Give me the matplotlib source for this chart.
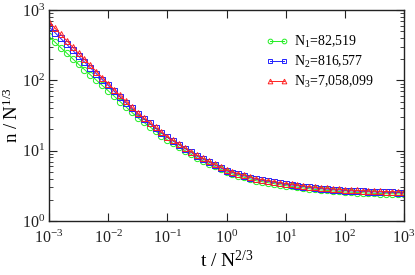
import matplotlib
matplotlib.use("Agg")
import matplotlib.pyplot as plt
from matplotlib.ticker import LogLocator, NullLocator, FixedLocator

plt.rcParams['font.family'] = ['Liberation Serif', 'DejaVu Serif']
plt.rcParams['mathtext.fontset'] = 'custom'
plt.rcParams['mathtext.rm'] = 'Liberation Serif'
plt.rcParams['mathtext.it'] = 'Liberation Serif:italic'
plt.rcParams['mathtext.bf'] = 'Liberation Serif:bold'
plt.rcParams['axes.unicode_minus'] = False

t = [0.001, 0.00126, 0.00158, 0.002, 0.00251, 0.00316, 0.00398, 0.00501, 0.00631, 0.00794,
     0.01, 0.0126, 0.0158, 0.02, 0.0251, 0.0316, 0.0398, 0.0501, 0.0631, 0.0794,
     0.1, 0.126, 0.158, 0.2, 0.251, 0.316, 0.398, 0.501, 0.631, 0.794,
     1.0, 1.26, 1.58, 2.0, 2.51, 3.16, 3.98, 5.01, 6.31, 7.94,
     10.0, 12.6, 15.8, 20.0, 25.1, 31.6, 39.8, 50.1, 63.1, 79.4,
     100.0, 126.0, 158.0, 200.0, 251.0, 316.0, 398.0, 501.0, 631.0, 794.0,
     1000.0]

n1 = [420, 349.8, 291.9, 243.1, 202.7, 169.1, 142.3, 119.7, 100.7, 84.7,
      71.2, 59.7, 50.0, 41.9, 35.1, 29.4, 25.4, 22.0, 19.0, 16.4,
      14.25, 12.65, 11.25, 10.0, 8.89, 7.91, 7.20, 6.54, 5.96, 5.42,
      4.93, 4.67, 4.41, 4.18, 3.96, 3.74, 3.62, 3.51, 3.40, 3.28,
      3.18, 3.11, 3.02, 2.95, 2.87, 2.81, 2.76, 2.72, 2.67, 2.63,
      2.58, 2.57, 2.54, 2.52, 2.49, 2.47, 2.46, 2.44, 2.44, 2.43,
      2.42]

n2 = [579, 477.6, 393.6, 324.3, 267.2, 220.2, 182.0, 150.4, 124.2, 102.6,
      84.7, 70.2, 58.1, 48.0, 39.8, 32.9, 28.3, 24.4, 20.9, 17.9,
      15.4, 13.64, 12.08, 10.69, 9.46, 8.37, 7.60, 6.90, 6.26, 5.69,
      5.16, 4.89, 4.62, 4.38, 4.14, 3.92, 3.79, 3.67, 3.56, 3.44,
      3.33, 3.25, 3.17, 3.09, 3.01, 2.94, 2.89, 2.84, 2.79, 2.76,
      2.71, 2.69, 2.66, 2.64, 2.61, 2.59, 2.58, 2.56, 2.55, 2.54,
      2.53]

n3 = [680.8, 553.4, 449.8, 365.6, 297.2, 241.5, 198.2, 162.6, 133.4, 109.4,
      89.7, 74.0, 61.0, 50.2, 41.4, 34.1, 29.2, 25.1, 21.5, 18.4,
      15.8, 13.96, 12.36, 10.94, 9.68, 8.57, 7.78, 7.06, 6.41, 5.82,
      5.28, 5.00, 4.73, 4.48, 4.24, 4.01, 3.88, 3.76, 3.64, 3.52,
      3.41, 3.33, 3.24, 3.16, 3.08, 3.01, 2.96, 2.91, 2.86, 2.82,
      2.77, 2.75, 2.72, 2.70, 2.67, 2.65, 2.64, 2.62, 2.61, 2.60,
      2.59]

labels = [r'N$_1$=82,519', r'N$_2$=816,577', r'N$_3$=7,058,099']
colors = ['#22ee22', '#2222ff', '#ff2222']
markers = ['o', 's', '^']
series = [n1, n2, n3]

x_ticks = [1e-3, 1e-2, 1e-1, 1e0, 1e1, 1e2, 1e3]
x_ticklabels = [r'$10^{-3}$', r'$10^{-2}$', r'$10^{-1}$', r'$10^{0}$',
                r'$10^{1}$', r'$10^{2}$', r'$10^{3}$']
y_ticks = [1e0, 1e1, 1e2, 1e3]
y_ticklabels = [r'$10^{0}$', r'$10^{1}$', r'$10^{2}$', r'$10^{3}$']

fig = plt.figure(figsize=(4.15, 2.75), dpi=100)
ax = fig.add_axes([49/415, 1 - 221/275, (404-49)/415, (221-10)/275])

for y, c, m, lab in zip(series, colors, markers, labels):
    ax.plot(t, y, color=c, marker=m, markersize=4.5, markerfacecolor='none',
            markeredgecolor=c, markeredgewidth=0.7, linewidth=0.7, label=lab)

ax.set_xscale('log')
ax.set_yscale('log')
ax.set_xlim(1e-3, 1e3)
ax.set_ylim(1, 1e3)

ax.xaxis.set_major_locator(FixedLocator(x_ticks))
ax.set_xticklabels(x_ticklabels)
ax.xaxis.set_minor_locator(NullLocator())
ax.yaxis.set_major_locator(FixedLocator(y_ticks))
ax.set_yticklabels(y_ticklabels)
ax.yaxis.set_minor_locator(LogLocator(base=10, subs=range(2, 10), numticks=20))

ax.tick_params(which='both', direction='in', top=True, right=True, labelsize=11.5, colors='#222222')
ax.tick_params(which='major', length=6, width=0.8)
ax.tick_params(which='minor', length=3, width=0.6)
ax.tick_params(axis='x', pad=6)
ax.tick_params(axis='y', pad=3)
for s in ax.spines.values():
    s.set_linewidth(1.0)
    s.set_color('#222222')

ax.set_xlabel(r't / N$^{2/3}$', fontsize=14, labelpad=2)
ax.set_ylabel(r'n / N$^{1/3}$', fontsize=13.5, labelpad=0)

leg = ax.legend(loc='upper left', bbox_to_anchor=(266/415, 1 - 34/275),
                bbox_transform=fig.transFigure, frameon=False, fontsize=10,
                numpoints=2, markerscale=0.75, handlelength=1.6,
                handletextpad=0.4, labelspacing=0.28, borderpad=0, borderaxespad=0)

fig.savefig('out.png', dpi=100)
